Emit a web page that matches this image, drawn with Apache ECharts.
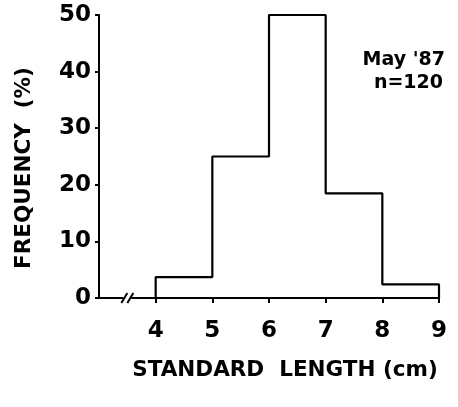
<!DOCTYPE html>
<html>
<head>
<meta charset="utf-8">
<script src="https://cdn.jsdelivr.net/npm/echarts@6/dist/echarts.min.js"></script>
<style>
  html, body { margin: 0; padding: 0; background: #fff; }
  #chart { width: 458px; height: 407px; }
</style>
</head>
<body>
<div id="chart"></div>
<script>
// Length-frequency histogram, May '87 sample
const binEdges = [4, 5, 6, 7, 8, 9];          // standard length class limits (cm)
const frequency = [3.7, 25, 50, 18.5, 2.4];   // percent of fish in each class
const yTicks = [0, 10, 20, 30, 40, 50];
const xTicks = [4, 5, 6, 7, 8, 9];

// Outline of the histogram as a stepped polyline
const outline = [[binEdges[0], 0]];
frequency.forEach((v, i) => {
  outline.push([binEdges[i], v]);
  outline.push([binEdges[i + 1], v]);
});
outline.push([binEdges[binEdges.length - 1], 0]);

const ink = '#000';
const font = 'DejaVu Sans';

const chart = echarts.init(document.getElementById('chart'));
chart.setOption({
  animation: false,
  backgroundColor: '#fff',
  grid: { left: 99, right: 19, top: 15, bottom: 109 },
  xAxis: {
    type: 'value', min: 3, max: 9, interval: 1,
    axisLine: { show: true, lineStyle: { color: ink, width: 2 } },
    axisTick: { show: true, length: 5, lineStyle: { color: ink, width: 2 }, customValues: xTicks },
    axisLabel: { color: ink, fontSize: 23, fontWeight: 'bold', fontFamily: font, margin: 22, customValues: xTicks },
    splitLine: { show: false }
  },
  yAxis: {
    type: 'value', min: 0, max: 50, interval: 10,
    axisLine: { show: true, lineStyle: { color: ink, width: 2 } },
    axisTick: { show: true, length: 4, lineStyle: { color: ink, width: 2 }, customValues: yTicks },
    axisLabel: { color: ink, fontSize: 23, fontWeight: 'bold', fontFamily: font, margin: 8, customValues: yTicks },
    splitLine: { show: false }
  },
  series: [
    {
      type: 'line',
      data: outline,
      symbol: 'none',
      lineStyle: { color: ink, width: 2.2 },
      z: 5
    },
    {
      // axis break symbol between origin and first class
      type: 'custom',
      data: [[3.5, 0]],
      renderItem: function (params, api) {
        const p = api.coord([api.value(0), api.value(1)]);
        const mk = (dx) => ({
          type: 'line',
          shape: { x1: p[0] + dx - 3, y1: p[1] + 5, x2: p[0] + dx + 3, y2: p[1] - 5 },
          style: { stroke: ink, lineWidth: 2 }
        });
        return {
          type: 'group',
          children: [
            { type: 'rect', shape: { x: p[0] - 4, y: p[1] - 2, width: 8, height: 4 }, style: { fill: '#fff' } },
            mk(-3), mk(3)
          ]
        };
      },
      z: 6
    }
  ],
  graphic: [
    {
      type: 'text', x: 24, y: 168, rotation: Math.PI / 2,
      style: { text: 'FREQUENCY  (%)', fill: ink, font: 'bold 21.5px ' + font, align: 'center', verticalAlign: 'middle' }
    },
    {
      type: 'text', x: 285, y: 370,
      style: { text: 'STANDARD  LENGTH (cm)', fill: ink, font: 'bold 21.5px ' + font, align: 'center', verticalAlign: 'middle' }
    },
    {
      type: 'text', x: 445, y: 60,
      style: { text: "May '87", fill: ink, font: 'bold 19px ' + font, align: 'right', verticalAlign: 'middle' }
    },
    {
      type: 'text', x: 443, y: 83,
      style: { text: 'n=120', fill: ink, font: 'bold 19px ' + font, align: 'right', verticalAlign: 'middle' }
    }
  ]
});
</script>
</body>
</html>
